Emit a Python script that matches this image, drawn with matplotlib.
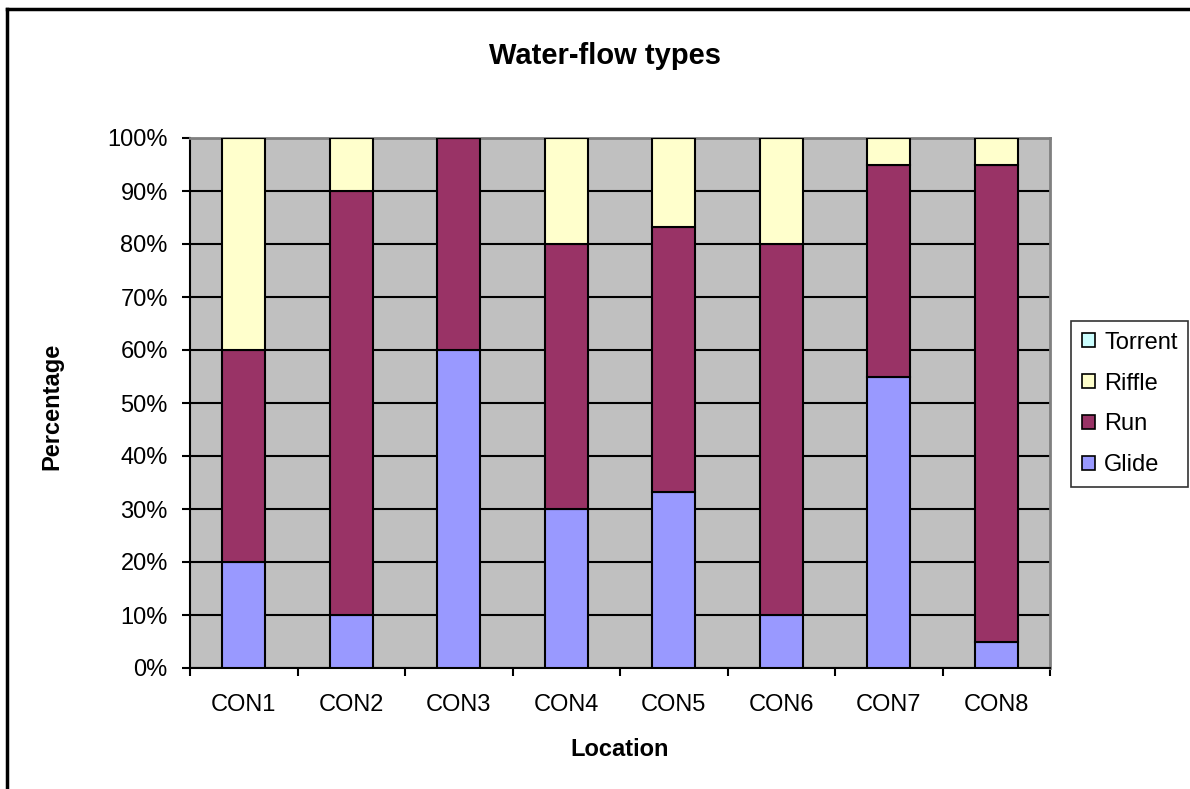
import matplotlib.pyplot as plt
import numpy as np
from matplotlib.lines import Line2D
from matplotlib.patches import Patch

plt.rcParams['font.family'] = ['Liberation Sans', 'DejaVu Sans']

locations = ['CON1', 'CON2', 'CON3', 'CON4', 'CON5', 'CON6', 'CON7', 'CON8']
glide = [20, 10, 60, 30, 33.3, 10, 55, 5]
run = [40, 80, 40, 50, 50, 70, 40, 90]
riffle = [40, 10, 0, 20, 16.7, 20, 5, 5]
torrent = [0, 0, 0, 0, 0, 0, 0, 0]

series = [('Glide', glide, '#9999FF'), ('Run', run, '#993366'),
          ('Riffle', riffle, '#FFFFCC'), ('Torrent', torrent, '#CCFFFF')]

fig = plt.figure(figsize=(11.9, 7.89), dpi=100)
ax = fig.add_axes([190/1190, 1 - 668/789, 860/1190, 530/789])
ax.set_facecolor('#C0C0C0')

x = np.arange(len(locations))
bottom = np.zeros(len(locations))
for name, vals, col in series:
    vals = np.array(vals, dtype=float)
    ax.bar(x, vals, 0.4, bottom=bottom, color=col, edgecolor='black',
           linewidth=1.5, zorder=3)
    bottom += vals

ax.set_xlim(-0.5, len(locations) - 0.5)
ax.set_ylim(0, 100)
ax.set_yticks(np.arange(0, 101, 10))
ax.set_yticklabels([f'{v}%' for v in range(0, 101, 10)])
ax.yaxis.grid(True, color='black', linewidth=1.5, zorder=1)
ax.set_axisbelow(True)

ax.set_xticks(x)
ax.set_xticklabels(locations)
ax.set_xticks(np.arange(-0.5, len(locations)), minor=True)
ax.tick_params(axis='x', which='major', length=0, pad=19, labelsize=17)
ax.tick_params(axis='x', which='minor', length=6, width=1.5, direction='out')
ax.tick_params(axis='y', length=6, width=1.5, labelsize=17, pad=10)

for s in ['top', 'right']:
    ax.spines[s].set_color('#808080')
    ax.spines[s].set_linewidth(2)
for s in ['left', 'bottom']:
    ax.spines[s].set_color('black')
    ax.spines[s].set_linewidth(1.5)

fig.text(620/1190, 1 - 750/789, 'Location', ha='center', va='center',
         fontsize=17, fontweight='bold')
fig.text(52/1190, 1 - 406/789, 'Percentage', ha='center', va='center',
         rotation=90, fontsize=17, fontweight='bold')
fig.text(605/1190, 1 - 56/789, 'Water-flow types',
         ha='center', va='center', fontsize=21, fontweight='bold')

handles = [Patch(facecolor=col, edgecolor='black', linewidth=1.2, label=name)
           for name, vals, col in reversed(series)]
leg = fig.legend(handles=handles, loc='upper left',
                 bbox_to_anchor=(1071/1190, 1 - 321/789), fontsize=17,
                 frameon=True, fancybox=False, handlelength=0.55,
                 handleheight=0.55, handletextpad=0.4, labelspacing=0.8,
                 borderpad=0.45, borderaxespad=0)
leg.get_frame().set_edgecolor('black')
leg.get_frame().set_linewidth(1.2)

fig.add_artist(Line2D([7/1190, 7/1190], [0, 1 - 9/789], color='black', lw=2.5,
                      transform=fig.transFigure))
fig.add_artist(Line2D([7/1190, 1], [1 - 9/789, 1 - 9/789], color='black', lw=2.5,
                      transform=fig.transFigure))

fig.savefig('out.png', dpi=100)
